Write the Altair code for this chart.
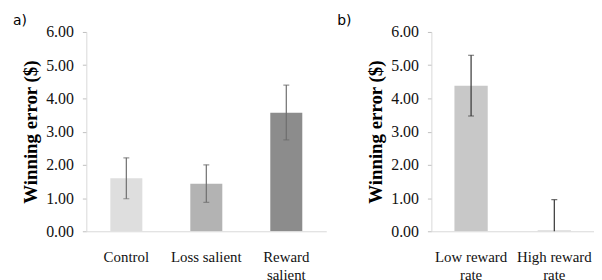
import altair as alt
import pandas as pd

# Panel a
cats_a = ["Control", "Loss salient", "Reward salient"]
vals_a = [1.60, 1.43, 3.57]
lo_a = [0.98, 0.87, 2.75]
hi_a = [2.21, 2.00, 4.40]
colors_a = ["#dedede", "#b3b3b3", "#8c8c8c"]

# Panel b
cats_b = ["Low reward rate", "High reward rate"]
vals_b = [4.38, 0.02]
lo_b = [3.47, -0.91]
hi_b = [5.30, 0.95]
colors_b = ["#c8c8c8", "#c8c8c8"]

y_ticks = [0, 1, 2, 3, 4, 5, 6]
y_title = "Winning error ($)"
label_lines = {
    "Control": ["Control"],
    "Loss salient": ["Loss salient"],
    "Reward salient": ["Reward", "salient"],
    "Low reward rate": ["Low reward", "rate"],
    "High reward rate": ["High reward", "rate"],
}


def label_expr(cats):
    expr = "datum.label"
    for c in reversed(cats):
        parts = ", ".join("'" + p + "'" for p in label_lines[c])
        expr = f"datum.label == '{c}' ? [{parts}] : ({expr})"
    return expr


SERIF = "Liberation Serif"


def panel(cats, vals, lo, hi, colors, width, height, pad_outer, align, err_color, tag, tag_dx):
    df = pd.DataFrame({"cat": cats, "val": vals, "lo": lo, "hi": hi, "color": colors})

    def xenc():
        return alt.X(
            "cat:N",
            sort=cats,
            scale=alt.Scale(paddingInner=0.6, paddingOuter=pad_outer, align=align),
            axis=alt.Axis(title=None, labelExpr=label_expr(cats)),
        )

    def yenc(field):
        return alt.Y(
            field,
            scale=alt.Scale(domain=[0, 6], nice=False),
            axis=alt.Axis(title=y_title, values=y_ticks, format=".2f"),
        )

    bars = alt.Chart(df).mark_bar(clip=True).encode(
        x=xenc(),
        y=yenc("val:Q"),
        color=alt.Color("color:N", scale=None, legend=None),
    )
    rule = alt.Chart(df).mark_rule(color=err_color, strokeWidth=1.2, clip=True).encode(
        x=xenc(), y=yenc("lo:Q"), y2="hi:Q",
    )
    cap_hi = alt.Chart(df).mark_tick(color=err_color, size=6, thickness=1.2, clip=True).encode(
        x=xenc(), y=yenc("hi:Q"),
    )
    cap_lo = alt.Chart(df).mark_tick(color=err_color, size=6, thickness=1.2, clip=True).encode(
        x=xenc(), y=yenc("lo:Q"),
    )
    return alt.layer(bars, rule, cap_hi, cap_lo).properties(
        width=width,
        height=height,
        title=alt.TitleParams(tag, anchor="start", frame="group", dx=tag_dx, offset=-4),
    )


pa = panel(cats_a, vals_a, lo_a, hi_a, colors_a, 242, 201, 0.3, 0.5, "#6e6e6e", "a)", -74)
pb = panel(cats_b, vals_b, lo_b, hi_b, colors_b, 164, 201, 0.277, 0.5, "#333333", "b)", -95)

chart = (
    alt.hconcat(pa, pb, spacing=11)
    .resolve_scale(x="independent", y="independent")
    .properties(
        padding={"left": 5, "top": 5, "right": 0, "bottom": 0},
        background="white",
    )
    .configure_view(stroke=None)
    .configure_title(font="DejaVu Sans", fontSize=14, fontWeight="normal", color="#000000")
    .configure_axisX(
        labelAngle=0,
        ticks=False,
        grid=False,
        domainColor="#d9d9d9",
        labelFont=SERIF,
        labelFontSize=15,
        labelColor="#111111",
        labelPadding=18,
        labelLineHeight=19,
        labelOverlap=False,
    )
    .configure_axisY(
        grid=False,
        domainColor="#d9d9d9",
        tickColor="#bfbfbf",
        tickSize=4,
        labelFont=SERIF,
        labelFontSize=16,
        labelColor="#111111",
        labelPadding=9,
        labelOverlap=False,
        labelFlush=False,
        titleFont=SERIF,
        titleFontSize=19,
        titleFontWeight="bold",
        titleColor="#000000",
        titlePadding=5,
    )
)

chart.save("out.html", embed_options={"renderer": "svg", "actions": False})
